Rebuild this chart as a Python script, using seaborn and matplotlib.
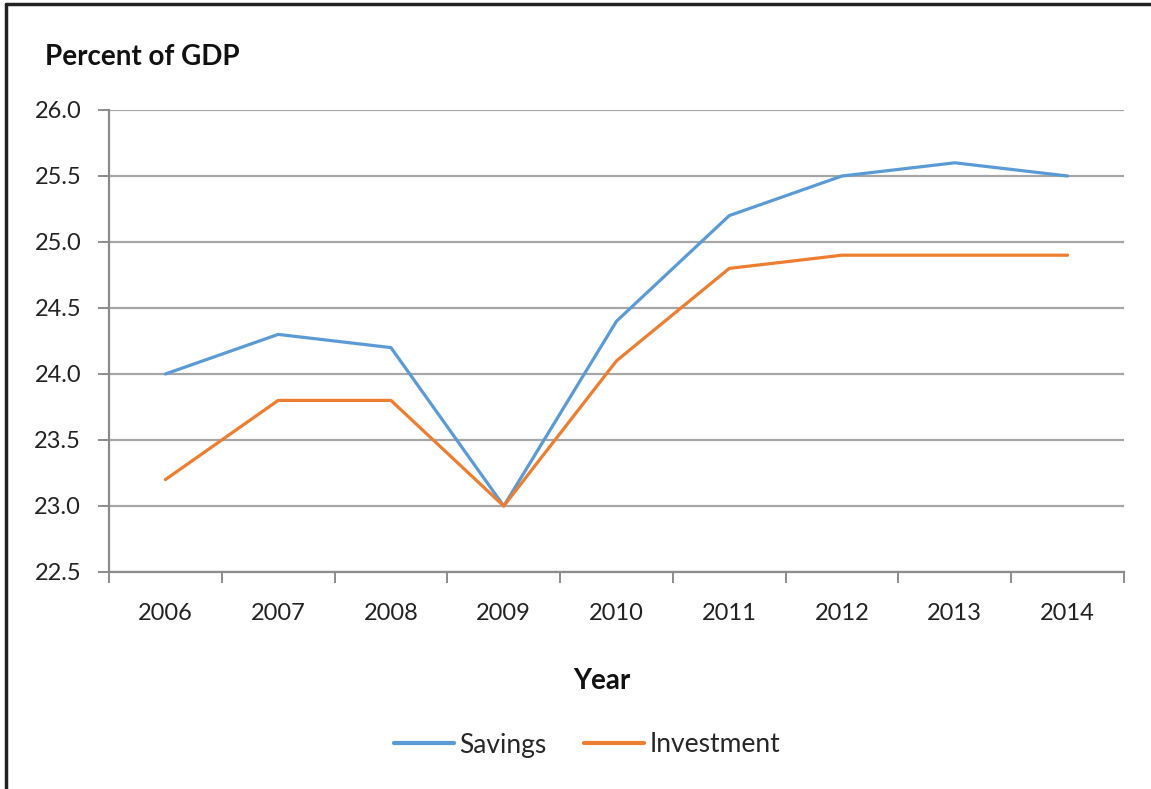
import matplotlib
matplotlib.use("Agg")
import matplotlib.pyplot as plt
import seaborn as sns
import pandas as pd
from matplotlib.lines import Line2D

years = ["2006", "2007", "2008", "2009", "2010", "2011", "2012", "2013", "2014"]
savings = [24.0, 24.3, 24.2, 23.0, 24.4, 25.2, 25.5, 25.6, 25.5]
investment = [23.2, 23.8, 23.8, 23.0, 24.1, 24.8, 24.9, 24.9, 24.9]
series_names = ["Savings", "Investment"]
colors = ["#5B9BD5", "#ED7D31"]
yticks = [22.5, 23.0, 23.5, 24.0, 24.5, 25.0, 25.5, 26.0]

sns.set_style("white")
plt.rcParams["font.family"] = ["Lato", "DejaVu Sans"]

df = pd.DataFrame({
    "pos": list(range(len(years))) * 2,
    "value": savings + investment,
    "series": [series_names[0]] * len(years) + [series_names[1]] * len(years),
})

fig = plt.figure(figsize=(11.51, 7.89), dpi=100)
ax = fig.add_axes([109 / 1151, 1 - 572 / 789, (1124 - 109) / 1151, (572 - 110) / 789])

sns.lineplot(data=df, x="pos", y="value", hue="series", palette=colors,
             linewidth=2.3, ax=ax, legend=False, sort=False)

ax.set_xlim(-0.5, len(years) - 0.5)
ax.set_ylim(22.5, 26.0)
ax.set_yticks(yticks)
ax.set_yticklabels([f"{v:.1f}" for v in yticks], fontsize=17, color="#222222")
ax.yaxis.grid(True, color="#A6A6A6", linewidth=1.6)
ax.set_axisbelow(True)

# category boundary ticks
ax.set_xticks([i - 0.5 for i in range(len(years) + 1)])
ax.set_xticklabels([])
ax.set_xticks(list(range(len(years))), minor=True)
ax.set_xticklabels(years, minor=True, fontsize=17, color="#222222")
ax.tick_params(axis="x", which="major", bottom=True, direction="out", length=8, width=1.4, color="#8C8C8C")
ax.tick_params(axis="x", which="minor", bottom=True, length=0, pad=22)
ax.tick_params(axis="y", left=True, direction="out", length=8, width=1.4, color="#8C8C8C", pad=12)

for s in ["top", "right"]:
    ax.spines[s].set_visible(False)
for s in ["left", "bottom"]:
    ax.spines[s].set_color("#8C8C8C")
    ax.spines[s].set_linewidth(1.6)

ax.set_xlabel("")
ax.set_ylabel("")

fig.text(45 / 1151, 1 - 57 / 789, "Percent of GDP", fontsize=20, fontweight="bold",
         ha="left", va="center", color="#111111")
fig.text(602 / 1151, 1 - 681 / 789, "Year", fontsize=20, fontweight="bold",
         ha="center", va="center", color="#111111")

handles = [Line2D([0], [0], color=c, linewidth=3) for c in colors]
fig.legend(handles, series_names, loc="center", bbox_to_anchor=(587 / 1151, 1 - 745 / 789),
           ncol=2, frameon=False, fontsize=19, handlelength=2.3, handletextpad=0.2,
           columnspacing=1.4)

# outer frame (left and top edges visible)
fig.add_artist(Line2D([6 / 1151, 6 / 1151], [0, 1 - 4 / 789], transform=fig.transFigure,
                      color="#222222", linewidth=2.5))
fig.add_artist(Line2D([6 / 1151, 1], [1 - 4 / 789, 1 - 4 / 789], transform=fig.transFigure,
                      color="#222222", linewidth=2.5))

fig.savefig("out.png", dpi=100)
